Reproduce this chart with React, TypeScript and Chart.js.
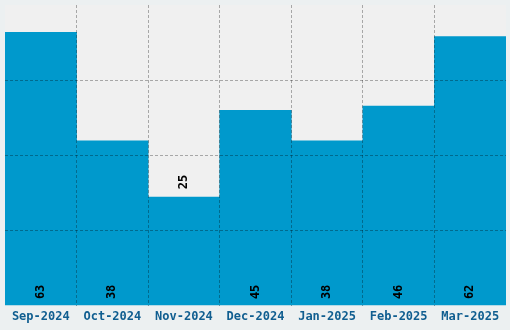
import React, { useEffect, useRef } from "react";
import { Chart, registerables } from "chart.js";

Chart.register(...registerables);

const categories = ["Sep-2024", "Oct-2024", "Nov-2024", "Dec-2024", "Jan-2025", "Feb-2025", "Mar-2025"];
const values = [63, 38, 25, 45, 38, 46, 62];
const yMax = 69.3;
const yStep = 17.325;

const FONT = "'DejaVu Sans Mono', monospace";
const GRID = "rgba(0,0,0,0.3)";
const NONE = "rgba(0,0,0,0)";

const bgPlugin = {
  id: "bgPlugin",
  beforeDraw(chart: any) {
    const { ctx, chartArea } = chart;
    ctx.save();
    ctx.fillStyle = "#ecf0f1";
    ctx.fillRect(0, 0, chart.width, chart.height);
    ctx.fillStyle = "#f0f0f0";
    ctx.fillRect(chartArea.left, chartArea.top, chartArea.right - chartArea.left, chartArea.bottom - chartArea.top);
    ctx.restore();
  },
};

const labelPlugin = {
  id: "labelPlugin",
  afterDraw(chart: any) {
    const { ctx } = chart;
    const meta = chart.getDatasetMeta(0);
    ctx.save();
    ctx.font = `bold 12px ${FONT}`;
    ctx.fillStyle = "#000";
    ctx.textBaseline = "middle";
    meta.data.forEach((bar: any, i: number) => {
      const v = values[i];
      const text = String(v);
      const w = ctx.measureText(text).width;
      let cy: number;
      if (v < 30) {
        cy = bar.y - 8 - w / 2;
      } else {
        cy = bar.base - 6 - w / 2;
      }
      ctx.save();
      ctx.translate(bar.x, cy);
      ctx.rotate(-Math.PI / 2);
      ctx.textAlign = "center";
      ctx.fillText(text, 0, 0);
      ctx.restore();
    });
    ctx.restore();
  },
};

const xGridColor = (c: any) => (c.type === "tick" && c.index > 0 ? GRID : NONE);
const yGridColor = (c: any) =>
  c.type === "tick" && c.index > 0 && c.index < c.scale.ticks.length - 1 ? GRID : NONE;

export default function App() {
  const ref = useRef<HTMLCanvasElement>(null);
  useEffect(() => {
    document.body.style.margin = "0";
    document.body.style.background = "#ecf0f1";
    const chart = new Chart(ref.current!, {
      type: "bar",
      data: {
        labels: categories,
        datasets: [
          {
            data: values,
            backgroundColor: "#0099cc",
            borderWidth: 0,
            barPercentage: 1,
            categoryPercentage: 1,
          },
        ],
      },
      options: {
        animation: false,
        responsive: false,
        maintainAspectRatio: false,
        layout: { padding: { left: 5, top: 5, right: 4, bottom: 2 } },
        plugins: { legend: { display: false }, tooltip: { enabled: false } },
        scales: {
          x: {
            grid: { color: xGridColor, z: 1, drawTicks: false } as any,
            border: { display: false, dash: [3, 2] },
            ticks: {
              color: "#105e90",
              font: { family: FONT, size: 12, weight: "bold" },
              padding: 4,
              maxRotation: 0,
            },
          },
          y: {
            min: 0,
            max: yMax,
            grid: { color: yGridColor, z: 1, drawTicks: false } as any,
            border: { display: false, dash: [3, 2] },
            ticks: { display: false, stepSize: yStep },
          },
        },
      },
      plugins: [bgPlugin, labelPlugin],
    });
    return () => chart.destroy();
  }, []);
  return <canvas ref={ref} width={510} height={330} style={{ display: "block" }} />;
}
